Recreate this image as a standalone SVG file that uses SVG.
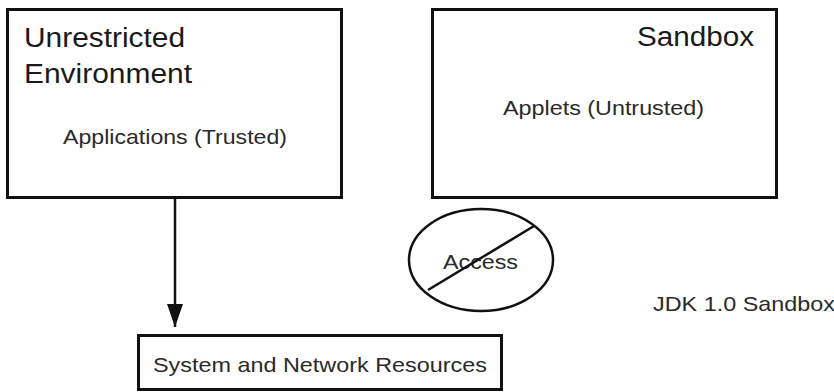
<svg xmlns="http://www.w3.org/2000/svg" width="834" height="392" viewBox="0 0 834 392">
<style>
.box{fill:#fff;stroke:#111;stroke-width:3}
.ln{fill:none;stroke:#111;stroke-width:2.5}
.big{font-family:"Liberation Sans",Arial,sans-serif;font-size:27px;fill:#1a1a1a}
.sm{font-family:"Liberation Sans",Arial,sans-serif;font-size:21px;fill:#2a2a2a}
</style>
<defs>
<marker id="ah" markerWidth="23" markerHeight="16" refX="23" refY="8" orient="auto" markerUnits="userSpaceOnUse" viewBox="0 0 23 16">
<path d="M0,0 L23,8 L0,16 Z" fill="#111"/>
</marker>
</defs>
<rect width="834" height="392" fill="#fff"/>
<g id="unrestricted">
<rect class="box" x="7.5" y="9.5" width="334" height="188"/>
<text class="big" x="24" y="47" textLength="161" lengthAdjust="spacingAndGlyphs">Unrestricted</text>
<text class="big" x="24" y="83" textLength="168" lengthAdjust="spacingAndGlyphs">Environment</text>
<text class="sm" x="63" y="144" textLength="224" lengthAdjust="spacingAndGlyphs">Applications (Trusted)</text>
</g>
<g id="sandbox">
<rect class="box" x="432.5" y="9.5" width="344" height="188"/>
<text class="big" x="637" y="46" textLength="117" lengthAdjust="spacingAndGlyphs">Sandbox</text>
<text class="sm" x="503" y="115" textLength="201" lengthAdjust="spacingAndGlyphs">Applets (Untrusted)</text>
</g>
<g id="resources">
<rect class="box" x="138.5" y="335.5" width="363" height="54"/>
<text class="sm" x="153" y="372" textLength="334" lengthAdjust="spacingAndGlyphs">System and Network Resources</text>
</g>
<g id="access">
<ellipse cx="481" cy="260" rx="72" ry="51" class="ln"/>
<text class="sm" x="443" y="269" textLength="75" lengthAdjust="spacingAndGlyphs">Access</text>
<line x1="428" y1="290" x2="534" y2="226" class="ln"/>
</g>
<g id="label">
<text class="sm" x="653" y="311" textLength="182" lengthAdjust="spacingAndGlyphs">JDK 1.0 Sandbox</text>
</g>
<g id="connectors">
<line x1="175" y1="198" x2="175" y2="327" class="ln" marker-end="url(#ah)"/>
</g>
</svg>
